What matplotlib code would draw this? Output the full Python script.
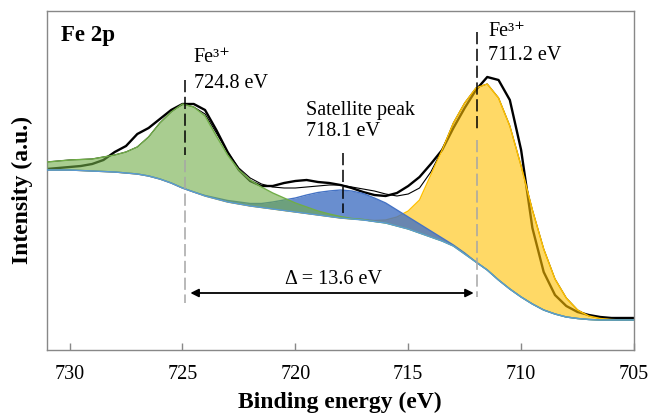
import numpy as np
import matplotlib
matplotlib.use("Agg")
import matplotlib.pyplot as plt

plt.rcParams['font.family'] = ['Liberation Serif', 'DejaVu Serif']

# Bindungsenergie (eV), Raster 0.5 eV
energy = [731, 730.5, 730, 729.5, 729, 728.5, 728, 727.5, 727, 726.5, 726, 725.5,
          725, 724.5, 724, 723.5, 723, 722.5, 722, 721.5, 721, 720.5, 720, 719.5,
          719, 718.5, 718, 717.5, 717, 716.5, 716, 715.5, 715, 714.5, 714, 713.5,
          713, 712.5, 712, 711.5, 711, 710.5, 710, 709.5, 709, 708.5, 708, 707.5,
          707, 706.5, 706, 705.5, 705]

# Untergrund (Shirley)
background = [180, 180, 180, 179.5, 179, 178.5, 178, 177, 176, 174, 171, 167,
              162, 158, 154, 151, 148, 146, 144, 142.5, 141, 139.5, 138, 136.5,
              135, 133.5, 132, 131, 130, 128.5, 127, 124, 121, 117, 113, 109,
              104, 96, 88, 80, 70, 61, 53, 46, 40, 36, 33, 31.5,
              30.5, 30, 30, 30, 30]

# Fit-Komponenten (Hoehe ueber Untergrund)
peak_724 = [8, 9, 10, 11, 12, 14.5, 17, 21, 27, 39, 56, 71,
            84, 85, 80, 63, 47, 34, 26, 20.5, 16, 12.5, 9, 6.5,
            4, 2.5, 1.5, 0.5, 0.5, 0, 0, 0, 0, 0, 0, 0,
            0, 0, 0, 0, 0, 0, 0, 0, 0, 0, 0, 0,
            0, 0, 0, 0, 0]
peak_sat = [0, 0, 0, 0, 0, 0, 0, 0, 0, 0, 0, 0,
            0, 0, 0.5, 1, 1.5, 2, 2.5, 4, 7, 10.5, 14, 18.5,
            22.5, 25.5, 28, 28, 26.5, 23.5, 20, 16, 12, 9, 6, 3,
            1, 1, 0, 0, 0, 0, 0, 0, 0, 0, 0, 0,
            0, 0, 0, 0, 0]
peak_711 = [0, 0, 0, 0, 0, 0, 0, 0, 0, 0, 0, 0,
            0, 0, 0, 0, 0, 0, 0, 0, 0, 0, 0, 0,
            0, 0, 0, 0, 0.5, 1, 3, 9, 18, 33, 62, 91,
            123, 151, 174, 186, 182, 163, 131, 94, 61, 35, 19, 8.5,
            3.5, 1.5, 0.5, 0, 0]

# Einhuellende und Messdaten
envelope = [188, 189, 190, 190.5, 191, 193, 195, 198, 203, 213, 227, 238,
            246, 243, 236, 217, 198, 182, 172, 166, 163, 162, 162, 163,
            164, 165, 165, 163, 161, 159, 156, 154, 156, 162, 178, 200,
            227, 247, 262, 266, 252, 224, 184, 140, 101, 71, 52, 40,
            34, 31.5, 30.5, 30, 30]
measured = [181, 182, 183, 184, 186, 190, 198, 204, 216, 222, 231, 240,
            246, 246, 240, 220, 198, 180, 169, 164, 164, 167, 169, 170,
            168, 167, 165, 162, 158, 155, 154, 157, 164, 173, 186, 200,
            222, 242, 260, 273, 270, 250, 200, 122, 78, 55, 44, 38,
            35, 33, 32, 32, 32]

E = np.array(energy)
bg = np.array(background)
green = bg + np.array(peak_724)
blue = bg + np.array(peak_sat)
yellow = bg + np.array(peak_711)

fig = plt.figure(figsize=(6.51, 4.15), dpi=100)
ax = fig.add_axes([47/651, 65/415, 587/651, 339/415])

# Messdaten und Fit unter den halbtransparenten Flaechen
ax.plot(E, measured, color='black', lw=1.7, zorder=1)
ax.plot(E, envelope, color='black', lw=0.8, zorder=1)

ax.fill_between(E, bg, yellow, color='#ffc000', alpha=0.6, lw=0, zorder=2)
ax.plot(E, yellow, color='#ffc000', lw=1, zorder=2)
ax.fill_between(E, bg, blue, color='#4472c4', alpha=0.8, lw=0, zorder=3)
ax.plot(E, blue, color='#4472c4', lw=1, zorder=3)
ax.fill_between(E, bg, green, color='#70ad47', alpha=0.6, lw=0, zorder=4)
ax.plot(E, green, color='#70ad47', lw=1, zorder=4)
ax.plot(E, bg, color='#5b9bd5', lw=1, zorder=5)

# Peakmarkierungen
dash = (0, (8, 3))
ax.plot([724.87, 724.87], [270, 195], color='black', lw=1.1, ls=dash, zorder=6)
ax.plot([724.87, 724.87], [190, 47], color='#a6a6a6', lw=1.1, ls=dash, zorder=6)
ax.plot([711.95, 711.95], [318, 220], color='black', lw=1.1, ls=dash, zorder=6)
ax.plot([711.95, 711.95], [210, 53], color='#a6a6a6', lw=1.1, ls=dash, zorder=6)
ax.plot([717.9, 717.9], [197, 137], color='black', lw=1.1, ls=dash, zorder=6)

ax.annotate('', xy=(712.1, 57), xytext=(724.65, 57),
            arrowprops=dict(arrowstyle='<|-|>', color='black', lw=1.3,
                            mutation_scale=12, shrinkA=0, shrinkB=0))
ax.text(718.3, 70, '\u0394 = 13.6 eV', fontsize=14.5, ha='center', va='center')

fe3 = 'Fe\u00b3\u207a'
ax.text(724.5, 293, fe3, fontsize=14.5, ha='left', va='center')
ax.text(724.5, 267, '724.8 eV', fontsize=14.5, ha='left', va='center')
ax.text(711.45, 319, fe3, fontsize=14.5, ha='left', va='center')
ax.text(711.45, 294, '711.2 eV', fontsize=14.5, ha='left', va='center')
ax.text(719.55, 240, 'Satellite peak', fontsize=14.5, ha='left', va='center')
ax.text(719.55, 218, '718.1 eV', fontsize=14.5, ha='left', va='center')
ax.text(730.4, 315, 'Fe 2p', fontsize=16.5, fontweight='bold', ha='left', va='center')

ax.set_xlim(731, 705)
ax.set_ylim(0, 339)
ax.set_xticks([730, 725, 720, 715, 710, 705])
ax.set_yticks([])
ax.tick_params(axis='x', direction='in', length=5, width=1, color='#888888',
               labelsize=14.5, pad=11)
for s in ax.spines.values():
    s.set_color('#888888')
    s.set_linewidth(1)

fig.text(340/651, 7/415, 'Binding energy (eV)', fontsize=17, fontweight='bold',
         ha='center', va='baseline')
fig.text(22/651, 1 - 190/415, 'Intensity (a.u.)', fontsize=17, fontweight='bold',
         rotation=90, ha='center', va='center')

fig.savefig('out.png', dpi=100)
